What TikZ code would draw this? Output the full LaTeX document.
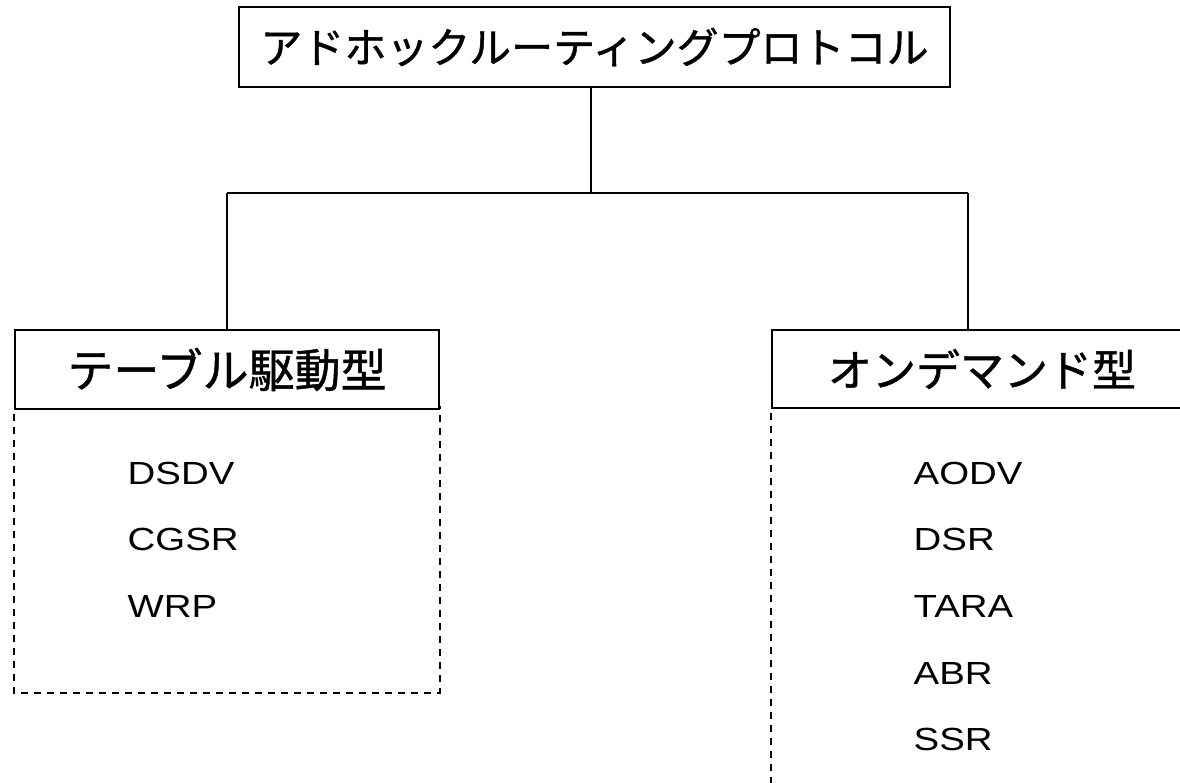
\documentclass[tikz,border=0pt]{standalone}
\usepackage{fontspec}
\newfontfamily\jp[FakeBold=1]{Noto Sans CJK JP}
\newfontfamily\lat[FakeStretch=1.2]{Liberation Sans}
\begin{document}
\begin{tikzpicture}[x=1pt,y=-1pt, line width=1.4pt,
  hdr/.style={draw, rectangle, inner sep=0pt, font=\jp\fontsize{44}{52}\selectfont},
  item/.style={anchor=base west, inner sep=0pt, font=\lat\fontsize{32}{38}\selectfont},
  dashbody/.style={dash pattern=on 7pt off 6pt, line width=2pt}]
\useasboundingbox (0,0) rectangle (1180,782);
\clip (0,0) rectangle (1180,782);
\node[hdr, minimum width=711pt, minimum height=80pt, font=\jp\fontsize{42}{50}\selectfont] (top) at (594.5,47) {アドホックルーティングプロトコル};
\node[hdr, minimum width=424pt, minimum height=79pt, font=\jp\fontsize{46}{54}\selectfont] (tbl) at (227,369.5) {テーブル駆動型};
\node[hdr, minimum width=420pt, minimum height=78pt] (ond) at (982,369) {オンデマンド型};
\coordinate (j) at (591,193);
\coordinate (jl) at (227,193);
\coordinate (jr) at (968,193);
\draw (top.south -| j) -- (j);
\draw (jl) -- (jr);
\draw (jl) -- (tbl.north);
\draw (jr) -- (jr |- ond.north);
\draw[dashbody] (tbl.south west) ++(0,4) -- ++(0,279) -| ([yshift=4pt]tbl.south east);
\draw[dashbody] (ond.south west) ++(0,4) -- ++(0,390);
\node[item] (d1) at (127,484) {DSDV};
\node[item] (d2) at (127,550) {CGSR};
\node[item] (d3) at (127,617) {WRP};
\node[item] (o1) at (913,484) {AODV};
\node[item] (o2) at (913,550) {DSR};
\node[item] (o3) at (913,617) {TARA};
\node[item] (o4) at (913,684) {ABR};
\node[item] (o5) at (913,750) {SSR};
\end{tikzpicture}
\end{document}
